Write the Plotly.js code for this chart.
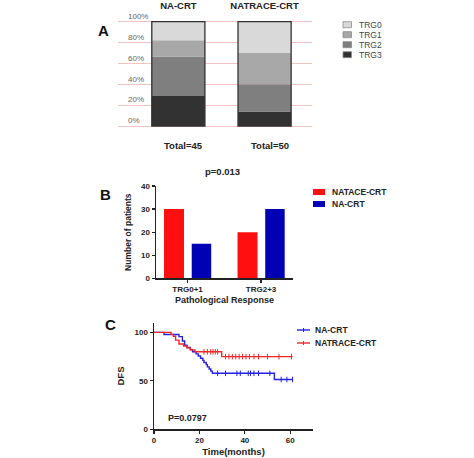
<!DOCTYPE html>
<html>
<head>
<meta charset="utf-8">
<script src="https://cdn.plot.ly/plotly-3.0.1.min.js"></script>
<style>
html,body{margin:0;padding:0;background:#fff;}
#chart{width:474px;height:458px;}
</style>
</head>
<body>
<div id="chart"></div>
<script>
// ---------- DATA ----------
// Panel A: TRG distribution (patient counts), order TRG0..TRG3
const groupsA = ['NA-CRT', 'NATRACE-CRT'];
const trgLabels = ['TRG0', 'TRG1', 'TRG2', 'TRG3'];
const trgNACRT = [8, 7, 17, 13];
const trgNATRACE = [15, 15, 13, 7];
const trgColors = ['#d9d9d9', '#a8a8a8', '#7f7f7f', '#323232'];
const pctTicks = [0, 20, 40, 60, 80, 100];

// Panel B: pathological response
const respCats = ['TRG0+1', 'TRG2+3'];
const respSeries = ['NATACE-CRT', 'NA-CRT'];
const respNATACE = [30, 20];
const respNA = [15, 30];
const respColors = ['#ff0f0f', '#0000b4'];
const pValueB = 'p=0.013';

// Panel C: Kaplan-Meier DFS
const kmSeries = ['NA-CRT', 'NATRACE-CRT'];
const kmColors = ['#2323e6', '#f02828'];
const naTime = [0, 4.4, 11, 12.5, 13.5, 14.5, 16, 17, 18.5, 19.5, 20.5, 21.5, 22, 23, 23.5, 24.3, 25, 25.7, 53, 61];
const naSurv = [100, 97.8, 95.6, 91.1, 86.7, 84.4, 82.2, 80, 77.8, 75.6, 73.3, 71.1, 68.9, 66.7, 64.4, 62.2, 60, 57.8, 51.4, 51.4];
const naCensor = [28, 31.5, 36.5, 38, 41.5, 42.5, 44, 46, 51, 56, 58.5, 61];
const ntTime = [0, 7.5, 8.5, 9.5, 11, 13, 14.5, 16, 18, 29.8, 61];
const ntSurv = [100, 98, 96, 92, 88, 86, 84, 82, 80, 75, 75];
const ntCensor = [22, 23.5, 25, 26, 27, 28, 31.5, 33, 34.5, 36, 37.5, 39, 40.5, 42, 44, 46, 50, 55, 60.5];
const pValueC = 'P=0.0797';
const timeTicks = [0, 20, 40, 60];
const dfsTicks = [0, 50, 100];

// ---------- HELPERS ----------
const W = 474, H = 458;
const PX = p => p / W;
const PY = p => 1 - p / H;
const FONT = 'Liberation Sans, Arial, sans-serif';

function survAt(T, S, t) {
  let v = S[0];
  for (let i = 0; i < T.length; i++) if (T[i] <= t) v = S[i];
  return v;
}

const traces = [];

// ---------- PANEL A ----------
const countsA = [trgNACRT, trgNATRACE];
const totalsA = countsA.map(c => c.reduce((a, b) => a + b, 0));
const pctA = countsA.map((c, g) => c.map(v => v / totalsA[g] * 100));
const barWA = 0.616;
// stack from TRG3 (bottom) up to TRG0
const baseA = [0, 0];
for (let k = trgLabels.length - 1; k >= 0; k--) {
  const ys = pctA.map(p => p[k]);
  traces.push({
    type: 'bar', xaxis: 'x', yaxis: 'y', name: trgLabels[k],
    x: [0, 1], y: ys, base: baseA.slice(),
    width: barWA, offset: -barWA / 2,
    marker: {color: trgColors[k], line: {width: 0}},
    showlegend: false, hoverinfo: 'skip'
  });
  for (let g = 0; g < 2; g++) baseA[g] += ys[g];
}
// outline of each full bar
traces.push({
  type: 'bar', xaxis: 'x', yaxis: 'y', x: [0, 1], y: baseA.slice(), base: [0, 0],
  width: barWA, offset: -barWA / 2,
  marker: {color: 'rgba(0,0,0,0)', line: {width: 1.3, color: '#303030'}},
  showlegend: false, hoverinfo: 'skip'
});

// ---------- PANEL B ----------
const respVals = [respNATACE, respNA];
const offB = [-0.32, 0.057];
const widB = [0.272, 0.265];
respVals.forEach((vals, i) => {
  traces.push({
    type: 'bar', xaxis: 'x2', yaxis: 'y2', name: respSeries[i],
    x: [0, 1], y: vals, width: widB[i], offset: offB[i],
    marker: {color: respColors[i], line: {width: 0}},
    showlegend: false, hoverinfo: 'skip'
  });
});

// ---------- PANEL C ----------
const kmData = [[naTime, naSurv, naCensor], [ntTime, ntSurv, ntCensor]];
kmData.forEach((d, i) => {
  traces.push({
    type: 'scatter', mode: 'lines', xaxis: 'x3', yaxis: 'y3', name: kmSeries[i],
    x: d[0], y: d[1], line: {shape: 'hv', color: kmColors[i], width: 1.4},
    showlegend: false, hoverinfo: 'skip'
  });
  traces.push({
    type: 'scatter', mode: 'markers', xaxis: 'x3', yaxis: 'y3',
    x: d[2], y: d[2].map(t => survAt(d[0], d[1], t)),
    marker: {symbol: 'line-ns-open', size: 4, color: kmColors[i], line: {width: 1, color: kmColors[i]}},
    showlegend: false, hoverinfo: 'skip'
  });
});

// ---------- ANNOTATIONS & LEGEND SHAPES ----------
const ann = [];
const shapes = [];
function letter(t, x, y) {
  ann.push({text: t, xref: 'paper', yref: 'paper', x: PX(x), y: PY(y), showarrow: false,
    xanchor: 'center', yanchor: 'middle', font: {family: FONT, size: 15, weight: 'bold', color: '#111'}});
}
letter('A', 103.5, 30);
letter('B', 105, 194);
letter('C', 110, 324);

// totals under bars of A
totalsA.forEach((t, g) => {
  ann.push({text: 'Total=' + t, xref: 'x', yref: 'paper', x: g + 0.06, y: PY(146), showarrow: false,
    xanchor: 'center', yanchor: 'middle', font: {family: FONT, size: 9.5, weight: 'bold', color: '#222'}});
});

// legend A
trgLabels.forEach((lab, k) => {
  const cy = 24.7 + k * 10;
  shapes.push({type: 'rect', xref: 'paper', yref: 'paper', x0: PX(343), x1: PX(351.5), y0: PY(cy - 3), y1: PY(cy + 3),
    fillcolor: trgColors[k], line: {color: '#8a8a8a', width: 0.8}});
  ann.push({text: lab, xref: 'paper', yref: 'paper', x: PX(356.5), y: PY(cy), showarrow: false,
    xanchor: 'left', yanchor: 'middle', font: {family: FONT, size: 8.5, color: '#444'}});
});

// title B
ann.push({text: pValueB, xref: 'paper', yref: 'paper', x: PX(222), y: PY(171), showarrow: false,
  xanchor: 'center', yanchor: 'middle', font: {family: FONT, size: 9.5, weight: 'bold', color: '#222'}});

// legend B
respSeries.forEach((lab, i) => {
  const cy = 192 + i * 12;
  shapes.push({type: 'rect', xref: 'paper', yref: 'paper', x0: PX(313), x1: PX(325), y0: PY(cy - 3), y1: PY(cy + 3),
    fillcolor: respColors[i], line: {width: 0}});
  ann.push({text: lab, xref: 'paper', yref: 'paper', x: PX(329.5), y: PY(cy), showarrow: false,
    xanchor: 'left', yanchor: 'middle', font: {family: FONT, size: 8.5, weight: 'bold', color: '#222'}});
});

// legend C
kmSeries.forEach((lab, i) => {
  const cy = 330 + i * 13;
  shapes.push({type: 'line', xref: 'paper', yref: 'paper', x0: PX(297), x1: PX(310), y0: PY(cy), y1: PY(cy),
    line: {color: kmColors[i], width: 1.4}});
  shapes.push({type: 'line', xref: 'paper', yref: 'paper', x0: PX(303.5), x1: PX(303.5), y0: PY(cy - 2), y1: PY(cy + 2),
    line: {color: kmColors[i], width: 1}});
  ann.push({text: lab, xref: 'paper', yref: 'paper', x: PX(313), y: PY(cy), showarrow: false,
    xanchor: 'left', yanchor: 'middle', font: {family: FONT, size: 8.5, weight: 'bold', color: '#222'}});
});

// p-value C
ann.push({text: pValueC, xref: 'paper', yref: 'paper', x: PX(166), y: PY(418), showarrow: false,
  xanchor: 'left', yanchor: 'middle', font: {family: FONT, size: 9, weight: 'bold', color: '#222'}});

// ---------- LAYOUT ----------
const axisLine = {showline: true, linecolor: '#222', linewidth: 1.5, ticks: 'outside', ticklen: 3,
  tickwidth: 1.2, tickcolor: '#222', showgrid: false, zeroline: false, automargin: false};
const tickFontB = {family: FONT, size: 8, weight: 'bold', color: '#222'};

const layout = {
  width: W, height: H,
  margin: {l: 0, r: 0, t: 0, b: 0, pad: 0},
  paper_bgcolor: '#fff', plot_bgcolor: 'rgba(0,0,0,0)',
  barmode: 'overlay', showlegend: false,
  font: {family: FONT},
  xaxis: {
    domain: [PX(118), PX(312)], range: [-0.70, 1.55], anchor: 'y', side: 'top',
    tickvals: [0, 1], ticktext: groupsA, ticks: '', showline: false, showgrid: false, zeroline: false,
    ticklabelstandoff: 9, automargin: false,
    tickfont: {family: FONT, size: 9.5, weight: 'bold', color: '#222'}
  },
  yaxis: {
    domain: [PY(127.1), PY(20.6)], range: [-1, 101], anchor: 'x',
    tickvals: pctTicks, ticktext: pctTicks.map(v => v + '%'), ticks: '',
    ticklabelposition: 'inside top', ticklabelstandoff: 7, ticklabeloverflow: 'allow',
    showline: false, zeroline: false, showgrid: true, gridcolor: '#f3c2c2', gridwidth: 1,
    automargin: false, tickfont: {family: FONT, size: 8, color: '#666'}
  },
  xaxis2: Object.assign({}, axisLine, {
    domain: [PX(156), PX(293)], range: [-0.429, 1.435], anchor: 'y2',
    tickvals: [0, 1], ticktext: respCats, tickfont: tickFontB,
    title: {text: 'Pathological Response', standoff: 3, font: {family: FONT, size: 9, weight: 'bold', color: '#222'}}
  }),
  yaxis2: Object.assign({}, axisLine, {
    domain: [PY(278.3), PY(186)], range: [0, 40], anchor: 'x2', dtick: 10, tickfont: tickFontB,
    title: {text: 'Number of patients', standoff: 8, font: {family: FONT, size: 8.5, weight: 'bold', color: '#222'}}
  }),
  xaxis3: Object.assign({}, axisLine, {
    domain: [PX(154), PX(313)], range: [0, 70], anchor: 'y3',
    tickvals: timeTicks, tickfont: tickFontB,
    title: {text: 'Time(months)', standoff: 4, font: {family: FONT, size: 9.5, weight: 'bold', color: '#222'}}
  }),
  yaxis3: Object.assign({}, axisLine, {
    domain: [PY(429.3), PY(322.7)], range: [0, 110], anchor: 'x3',
    tickvals: dfsTicks, tickfont: tickFontB,
    title: {text: 'DFS', standoff: 8, font: {family: FONT, size: 9.5, weight: 'bold', color: '#222'}}
  }),
  annotations: ann,
  shapes: shapes
};

Plotly.newPlot('chart', traces, layout, {displayModeBar: false, staticPlot: true});
</script>
</body>
</html>
